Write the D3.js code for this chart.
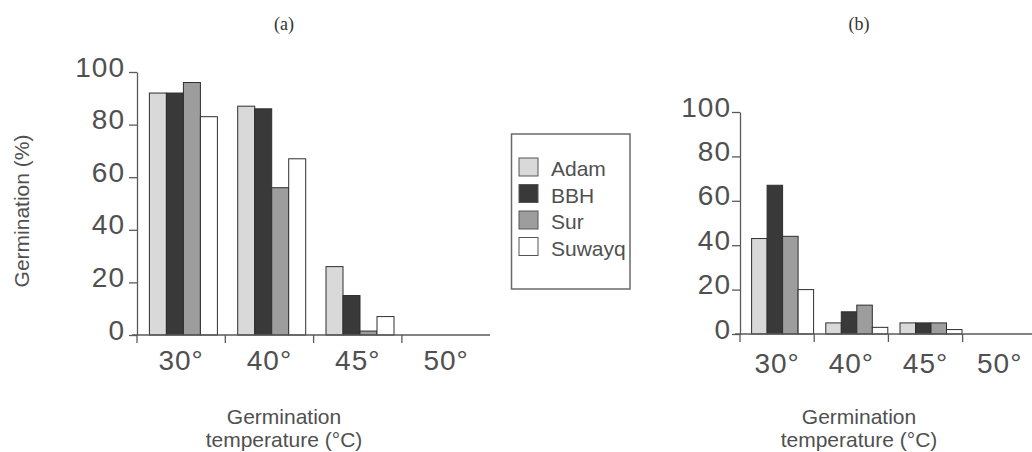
<!DOCTYPE html>
<html>
<head>
<meta charset="utf-8">
<script src="https://cdn.jsdelivr.net/npm/d3@7"></script>
<style>
  html, body { margin: 0; padding: 0; background: #ffffff; }
  svg { display: block; }
</style>
</head>
<body>
<svg id="chart" width="1032" height="452"></svg>
<script>
// ---------- data ----------
const categories = ["30°", "40°", "45°", "50°"];
const seriesNames = ["Adam", "BBH", "Sur", "Suwayq"];
const yTicks = [0, 20, 40, 60, 80, 100];

// panel (a)
const adamA   = [92, 87, 26, 0];
const bbhA    = [92, 86, 15, 0];
const surA    = [96, 56, 1.5, 0];
const suwayqA = [83, 67, 7, 0];

// panel (b)
const adamB   = [43, 5, 5, 0];
const bbhB    = [67, 10, 5, 0];
const surB    = [44, 13, 5, 0];
const suwayqB = [20, 3, 2, 0];

const panelTitles = ["(a)", "(b)"];
const yTitle = "Germination (%)";
const xTitleLines = ["Germination", "temperature (°C)"];

// ---------- style ----------
const fills = { Adam: "#d9d9d9", BBH: "#393939", Sur: "#9d9d9d", Suwayq: "#ffffff" };
const textColor = "#505050";
const axisColor = "#5a5a5a";
const sans = "'Liberation Sans', Arial, Helvetica, sans-serif";

const svg = d3.select("#chart");

function drawPanel(cfg, seriesArrays) {
  const g = svg.append("g");
  const x0 = d3.scaleBand().domain(categories)
    .range([cfg.left, cfg.left + cfg.band * categories.length]).padding(0);
  const x1 = d3.scaleBand().domain(seriesNames)
    .range([cfg.offset, cfg.offset + cfg.barW * seriesNames.length]).padding(0);
  const y = d3.scaleLinear().domain([0, 100]).range([cfg.bottom, cfg.top]);

  // bars
  seriesNames.forEach((s, si) => {
    g.append("g").selectAll("rect")
      .data(categories.map((c, ci) => ({ c, v: seriesArrays[si][ci] })).filter(d => d.v > 0))
      .join("rect")
      .attr("x", d => x0(d.c) + x1(s))
      .attr("y", d => y(d.v))
      .attr("width", x1.bandwidth())
      .attr("height", d => y(0) - y(d.v))
      .attr("fill", fills[s])
      .attr("stroke", "#2e2e2e")
      .attr("stroke-width", 1);
  });

  // y axis
  const yAxis = g.append("g")
    .attr("transform", `translate(${cfg.left},0)`)
    .call(d3.axisLeft(y).tickValues(yTicks).tickSize(8).tickPadding(cfg.yPad).tickSizeOuter(0));
  yAxis.select(".domain").attr("stroke", axisColor).attr("stroke-width", 1.3);
  yAxis.selectAll(".tick line").attr("stroke", axisColor).attr("stroke-width", 1.3);
  yAxis.selectAll(".tick text")
    .attr("fill", textColor)
    .attr("dy", "4px")
    .style("font-family", sans)
    .style("font-size", "28px")
    .style("letter-spacing", "1px");

  // x axis (baseline + category boundary ticks)
  const xg = g.append("g");
  xg.append("line")
    .attr("x1", cfg.left - 5).attr("x2", cfg.axisEnd)
    .attr("y1", y(0)).attr("y2", y(0))
    .attr("stroke", axisColor).attr("stroke-width", 1.3);
  xg.selectAll("line.tk")
    .data(categories)
    .join("line")
    .attr("class", "tk")
    .attr("x1", d => x0(d)).attr("x2", d => x0(d))
    .attr("y1", y(0)).attr("y2", y(0) + 8)
    .attr("stroke", axisColor).attr("stroke-width", 1.3);
  xg.selectAll("text")
    .data(categories)
    .join("text")
    .attr("x", d => x0(d) + x0.bandwidth() / 2)
    .attr("y", y(0) + cfg.xLabelGap)
    .attr("text-anchor", "middle")
    .attr("fill", textColor)
    .style("font-family", sans)
    .style("font-size", "28px")
    .style("letter-spacing", "1px")
    .text(d => d);

  // x title
  const xt = g.append("text")
    .attr("text-anchor", "middle")
    .attr("fill", textColor)
    .style("font-family", sans)
    .style("font-size", "21px");
  xTitleLines.forEach((t, i) => {
    xt.append("tspan").attr("x", cfg.xTitleX).attr("y", 424 + i * 23).text(t);
  });

  // panel title
  g.append("text")
    .attr("x", cfg.xTitleX)
    .attr("y", 30)
    .attr("text-anchor", "middle")
    .attr("fill", "#333")
    .style("font-family", "'Liberation Serif', 'Times New Roman', serif")
    .style("font-size", "18px")
    .text(cfg.title);
}

drawPanel({ left: 137, band: 88.3, offset: 12.4, barW: 17, top: 72, bottom: 335,
            axisEnd: 490, yPad: 4, xLabelGap: 35, xTitleX: 284, title: panelTitles[0] },
          [adamA, bbhA, surA, suwayqA]);

drawPanel({ left: 740, band: 74.2, offset: 11.6, barW: 15.5, top: 112, bottom: 334,
            axisEnd: 1032, yPad: 1, xLabelGap: 39, xTitleX: 859, title: panelTitles[1] },
          [adamB, bbhB, surB, suwayqB]);

// y title (panel a)
svg.append("text")
  .attr("transform", "translate(29,211) rotate(-90)")
  .attr("text-anchor", "middle")
  .attr("fill", textColor)
  .style("font-family", sans)
  .style("font-size", "21px")
  .text(yTitle);

// legend
const legend = svg.append("g");
legend.append("rect")
  .attr("x", 511.5).attr("y", 134).attr("width", 118.5).attr("height", 155)
  .attr("fill", "#fff").attr("stroke", "#6a6a6a").attr("stroke-width", 1.5);
const items = legend.selectAll("g.item")
  .data(seriesNames)
  .join("g").attr("class", "item")
  .attr("transform", (d, i) => `translate(519,${158 + i * 26.5})`);
items.append("rect")
  .attr("width", 19).attr("height", 18)
  .attr("fill", d => fills[d])
  .attr("stroke", "#555").attr("stroke-width", 1);
items.append("text")
  .attr("x", 32).attr("y", 18)
  .attr("fill", textColor)
  .style("font-family", sans)
  .style("font-size", "21px")
  .text(d => d);
</script>
</body>
</html>
